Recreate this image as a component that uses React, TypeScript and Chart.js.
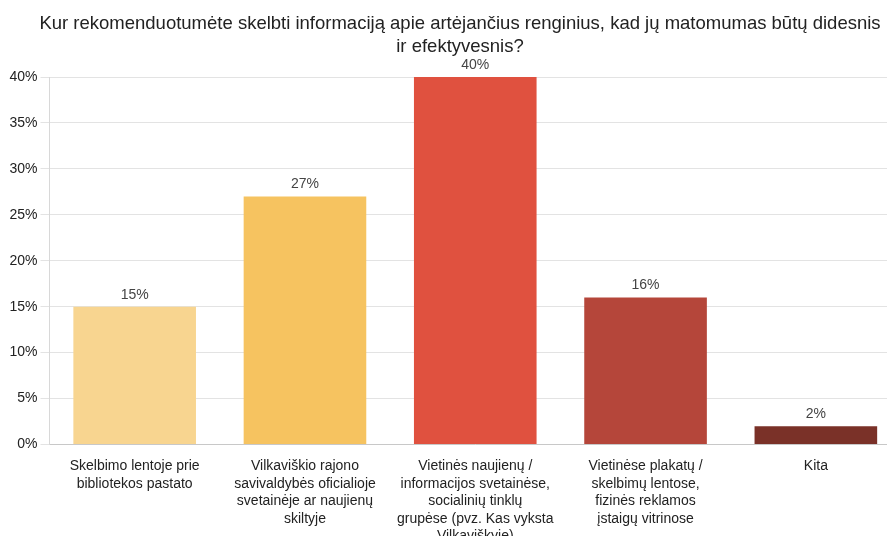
import React, { useEffect, useRef } from "react";
import { Chart, registerables } from "chart.js";

Chart.register(...registerables);

const titleLines = [
  "Kur rekomenduotumėte skelbti informaciją apie artėjančius renginius, kad jų matomumas būtų didesnis",
  "ir efektyvesnis?",
];

const categories: string[][] = [
  ["Skelbimo lentoje prie", "bibliotekos pastato"],
  ["Vilkaviškio rajono", "savivaldybės oficialioje", "svetainėje ar naujienų", "skiltyje"],
  ["Vietinės naujienų /", "informacijos svetainėse,", "socialinių tinklų", "grupėse (pvz. Kas vyksta", "Vilkaviškyje)"],
  ["Vietinėse plakatų /", "skelbimų lentose,", "fizinės reklamos", "įstaigų vitrinose"],
  ["Kita"],
];

const values = [15, 27, 40, 16, 2];

const barColors = ["#F8D590", "#F6C360", "#E0513F", "#B5463A", "#7A3128"];

const yTicks = [0, 5, 10, 15, 20, 25, 30, 35, 40];

const FONT = "'Liberation Sans', Arial, sans-serif";

const valueLabels = {
  id: "valueLabels",
  afterDatasetsDraw(chart: any) {
    const ctx = chart.ctx;
    const meta = chart.getDatasetMeta(0);
    ctx.save();
    ctx.font = `14px ${FONT}`;
    ctx.fillStyle = "#444444";
    ctx.textAlign = "center";
    ctx.textBaseline = "bottom";
    meta.data.forEach((bar: any, i: number) => {
      const v = chart.data.datasets[0].data[i];
      ctx.fillText(`${v}%`, bar.x, bar.y - 5);
    });
    ctx.restore();
  },
};

const centeredTitle = {
  id: "centeredTitle",
  afterDraw(chart: any) {
    const ctx = chart.ctx;
    ctx.save();
    ctx.font = `18.5px ${FONT}`;
    ctx.fillStyle = "#222222";
    ctx.textAlign = "center";
    ctx.textBaseline = "middle";
    const cx = chart.width / 2;
    titleLines.forEach((line, i) => {
      ctx.fillText(line, cx, 23.5 + i * 23);
    });
    ctx.restore();
  },
};

export default function App() {
  const ref = useRef<HTMLCanvasElement | null>(null);
  useEffect(() => {
    if (!ref.current) return;
    const chart = new Chart(ref.current, {
      type: "bar",
      data: {
        labels: categories,
        datasets: [
          {
            data: values,
            backgroundColor: barColors,
            borderWidth: 0,
          },
        ],
      },
      options: {
        responsive: false,
        animation: false,
        layout: { padding: { left: 6.5, right: 19, top: 77, bottom: 6 } },
        plugins: {
          legend: { display: false },
          tooltip: { enabled: false },
          title: { display: false },
        },
        scales: {
          x: {
            grid: { display: false },
            border: { display: true, color: "#c8c8c8" },
            ticks: {
              color: "#222222",
              padding: 5,
              maxRotation: 0,
              autoSkip: false,
              font: { family: FONT, size: 14, lineHeight: 1.25 },
            },
          },
          y: {
            min: 0,
            max: 40,
            afterBuildTicks: (axis: any) => {
              axis.ticks = yTicks.map((v) => ({ value: v }));
            },
            grid: { color: "#e3e3e3", tickLength: 9 },
            border: { display: true, color: "#d8d8d8" },
            ticks: {
              color: "#222222",
              padding: 3,
              font: { family: FONT, size: 14 },
              callback: (v: any) => `${v}%`,
            },
          },
        },
      },
      plugins: [valueLabels, centeredTitle],
    });
    return () => chart.destroy();
  }, []);
  return (
    <div style={{ position: "absolute", left: 0, top: 0, width: 887, height: 536, overflow: "hidden", background: "#fff" }}>
      <canvas ref={ref} width={920} height={556} style={{ width: 920, height: 556 }} />
    </div>
  );
}
